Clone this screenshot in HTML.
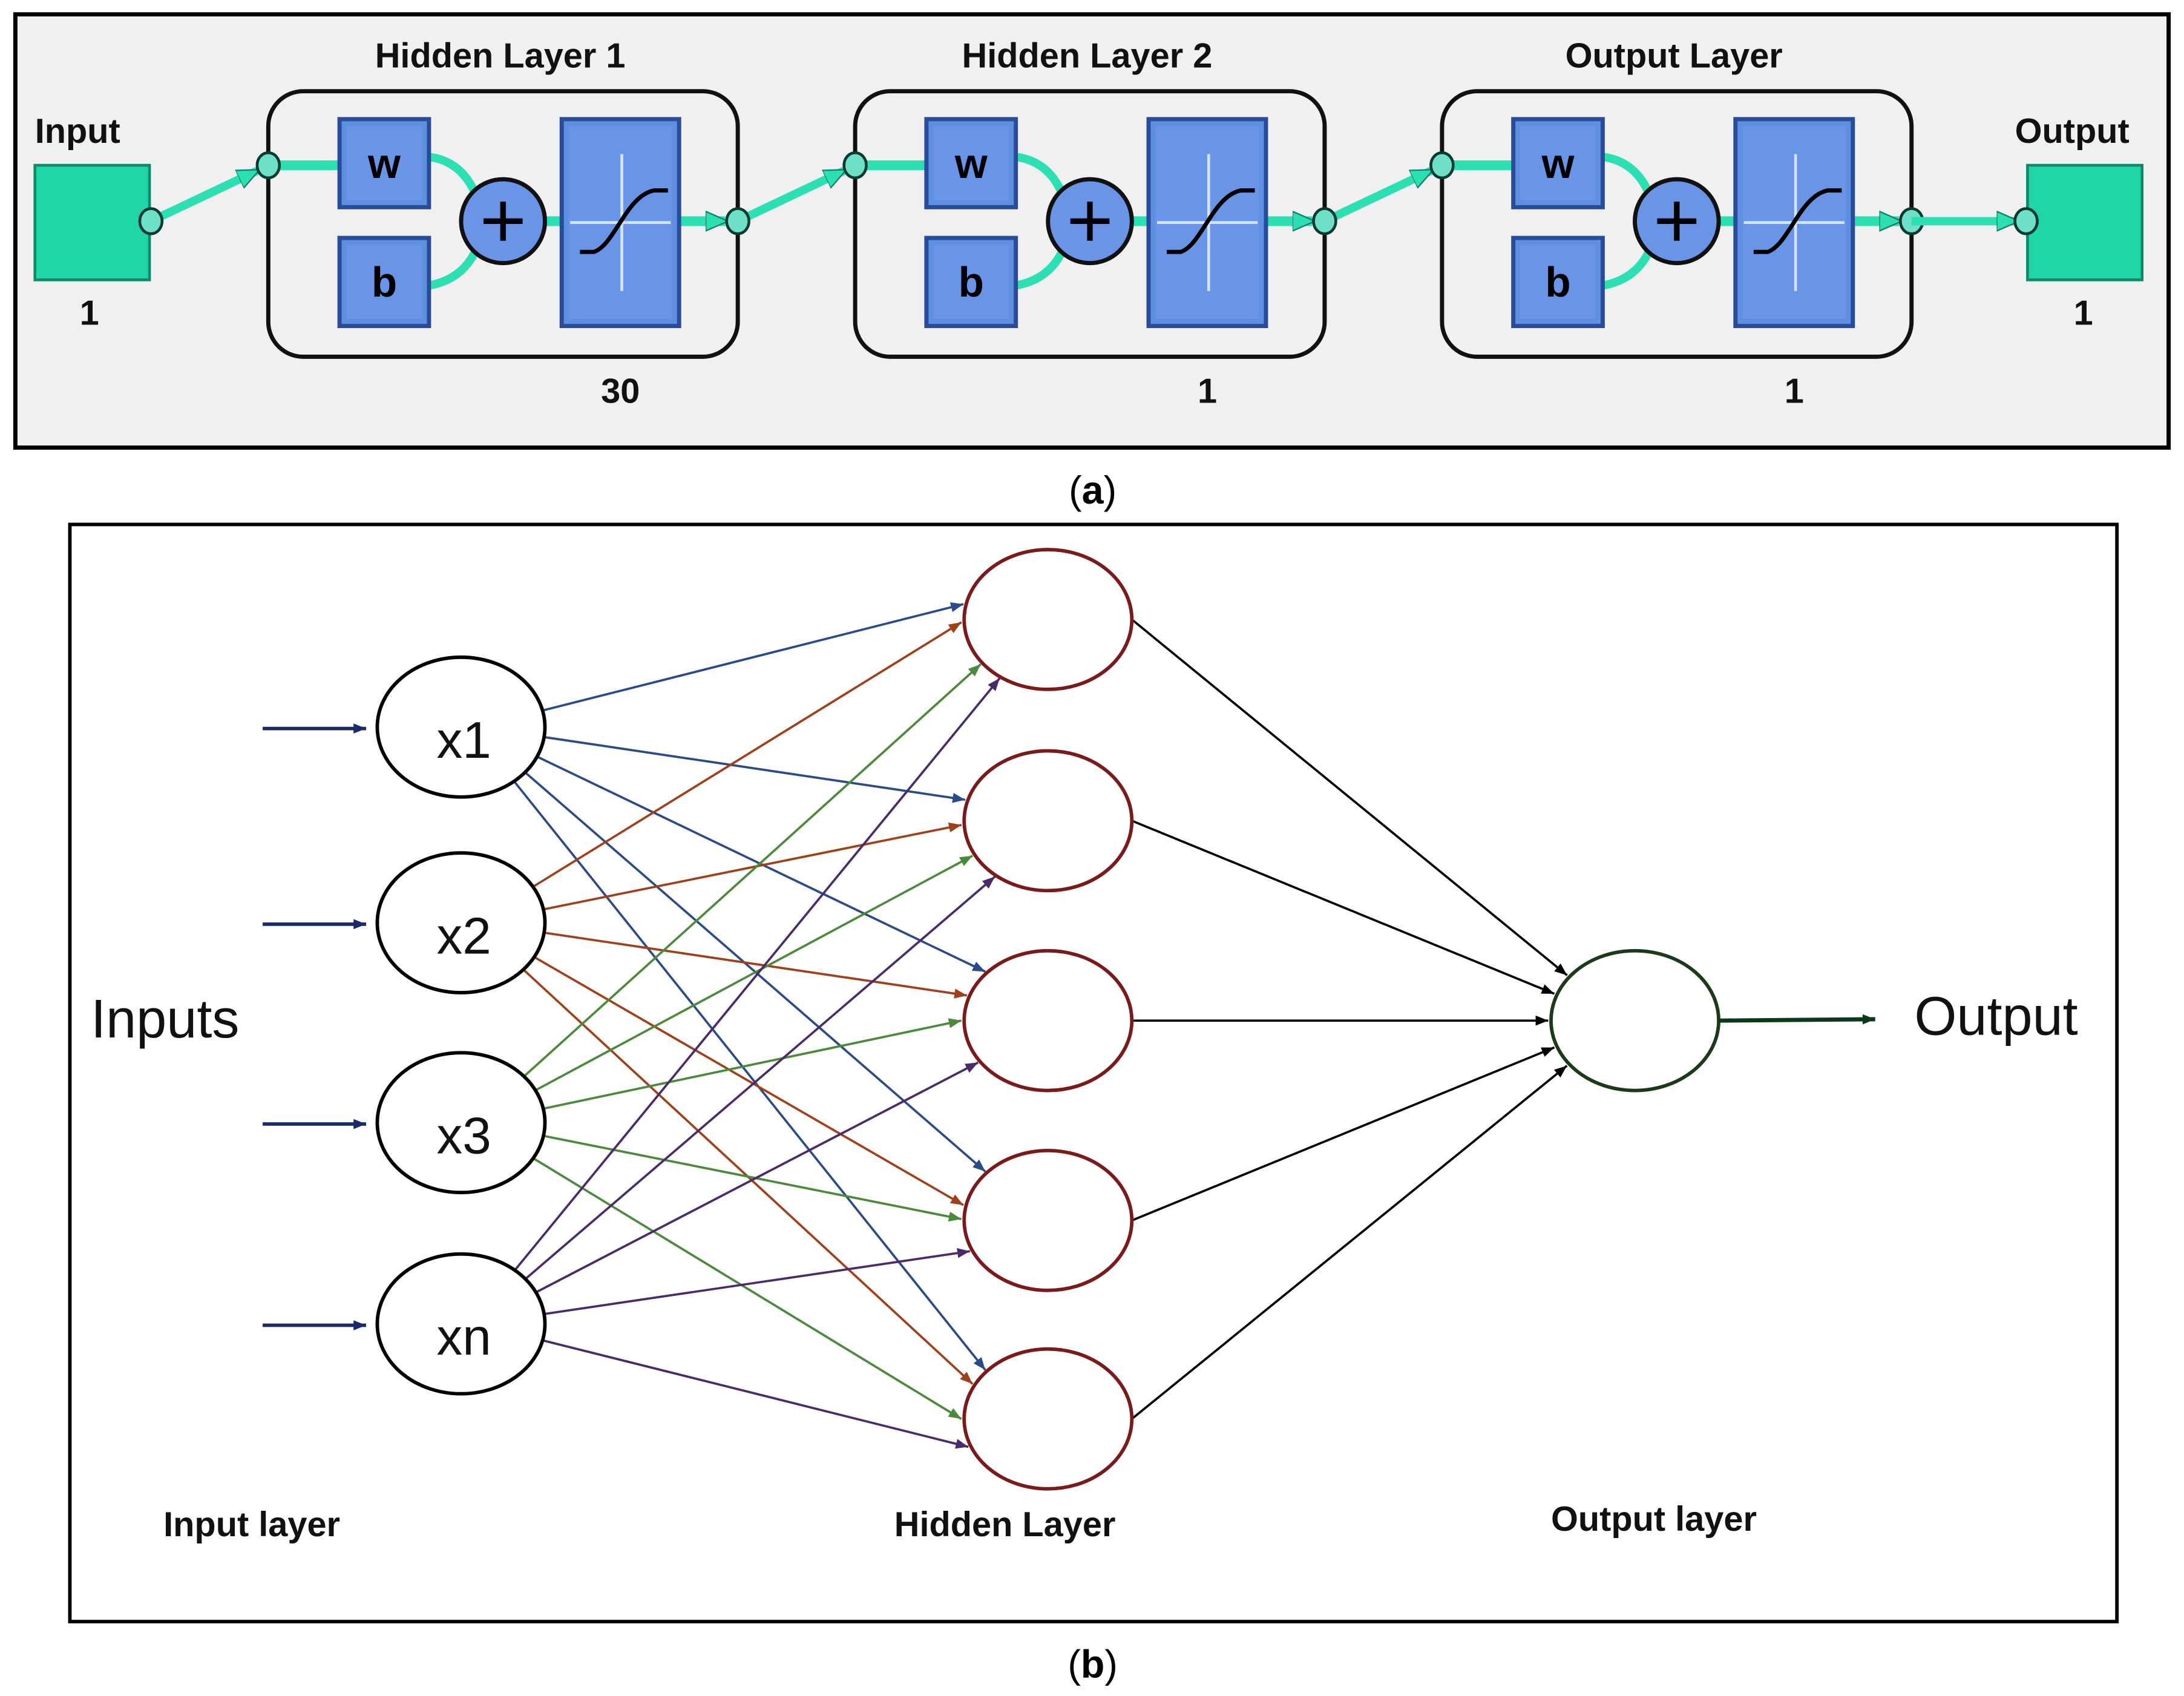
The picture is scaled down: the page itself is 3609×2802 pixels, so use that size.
<!DOCTYPE html>
<html><head><meta charset="utf-8"><style>
html,body{margin:0;padding:0;background:#fff;width:3609px;height:2802px;overflow:hidden}
svg{display:block}
text{font-family:"Liberation Sans",sans-serif}
</style></head><body>
<svg id="s" width="3609" height="2802" viewBox="0 0 1563 1213" xmlns="http://www.w3.org/2000/svg">
<defs>
<marker id="ta" markerWidth="16" markerHeight="16" refX="14" refY="8" orient="auto" markerUnits="userSpaceOnUse" viewBox="0 0 16 16"><path d="M0,1 L16,8 L0,15z" fill="#2de0b4" stroke="#10806a" stroke-width="1"/></marker>
<marker id="mb" viewBox="0 0 10 10" refX="10" refY="5" markerWidth="9" markerHeight="9" orient="auto" markerUnits="userSpaceOnUse"><path d="M0,1 L10,5 L0,9z" fill="context-stroke"/></marker>
</defs>
<!-- (a) -->
<rect x="11" y="10" width="1541" height="310" fill="#f0f0f0" stroke="#000" stroke-width="3"/>
<g font-weight="bold" font-size="25" fill="#111">
<text x="25" y="102">Input</text>
<text x="57" y="232">1</text>
<text x="1442" y="102">Output</text>
<text x="1484" y="232">1</text>
</g>
<rect x="25" y="118" width="82" height="82" fill="#20d6a8" stroke="#0d8a6a" stroke-width="2"/>
<rect x="1451" y="118" width="82" height="82" fill="#20d6a8" stroke="#0d8a6a" stroke-width="2"/>
<g id="layers"></g>
<text x="782" y="360" text-anchor="middle" font-size="28" fill="#000" font-family="Liberation Serif,serif">(<tspan font-weight="bold">a</tspan>)</text>
<!-- (b) -->
<rect x="50" y="375" width="1465" height="785" fill="#fff" stroke="#000" stroke-width="2.5"/>
<g id="net"></g>
<g font-size="39" fill="#111">
<text x="65" y="742">Inputs</text>
<text x="1370" y="740">Output</text>
</g>
<g font-size="25" font-weight="bold" fill="#111">
<text x="117" y="1099">Input layer</text>
<text x="640" y="1099">Hidden Layer</text>
<text x="1110" y="1095">Output layer</text>
</g>
<text x="782" y="1200" text-anchor="middle" font-size="28" fill="#000" font-family="Liberation Serif,serif">(<tspan font-weight="bold">b</tspan>)</text>
</svg>
<script>
var NS="http://www.w3.org/2000/svg";
function el(p,t,a,txt){var e=document.createElementNS(NS,t);for(var k in a)e.setAttribute(k,a[k]);if(txt)e.textContent=txt;p.appendChild(e);return e;}
var L=document.getElementById('layers');
var titles=["Hidden Layer 1","Hidden Layer 2","Output Layer"],nums=["30","1","1"];
function node(x,y){el(L,'ellipse',{cx:x,cy:y,rx:8,ry:9,fill:'#6fe0c8',stroke:'#0a3a30','stroke-width':2});}
for(var i=0;i<3;i++){
 var o=i*420;
 el(L,'text',{x:358+o,y:48,'text-anchor':'middle','font-size':25,'font-weight':'bold',fill:'#111'},titles[i]);
 el(L,'text',{x:444+o,y:288,'text-anchor':'middle','font-size':25,'font-weight':'bold',fill:'#111'},nums[i]);
 el(L,'rect',{x:192+o,y:65,width:336,height:190,rx:25,fill:'none',stroke:'#111','stroke-width':3});
 el(L,'line',{x1:192+o,y1:118,x2:243+o,y2:118,stroke:'#2de0b4','stroke-width':7});
 el(L,'path',{d:'M'+(307+o)+',112 Q'+(330+o)+',115 '+(340+o)+',138',fill:'none',stroke:'#2de0b4','stroke-width':6});
 el(L,'path',{d:'M'+(307+o)+',204 Q'+(330+o)+',200 '+(340+o)+',180',fill:'none',stroke:'#2de0b4','stroke-width':6});
 el(L,'line',{x1:390+o,y1:158,x2:402+o,y2:158,stroke:'#2de0b4','stroke-width':7});
 el(L,'line',{x1:486+o,y1:158,x2:519+o,y2:158,stroke:'#2de0b4','stroke-width':7,'marker-end':'url(#ta)'});
 [[243,85,64,63,'w'],[243,170,64,63,'b'],[402,85,84,148,'']].forEach(function(b){
  el(L,'rect',{x:b[0]+o,y:b[1],width:b[2],height:b[3],fill:'#5f8fe0',stroke:'#2a4a9a','stroke-width':3});
  el(L,'rect',{x:b[0]+o+5,y:b[1]+5,width:b[2]-10,height:b[3]-10,fill:'#6a95e6'});
  if(b[4])el(L,'text',{x:b[0]+o+32,y:b[1]+42,'text-anchor':'middle','font-size':30,'font-weight':'bold',fill:'#000'},b[4]);
 });
 el(L,'line',{x1:408+o,y1:159,x2:480+o,y2:159,stroke:'#d8e4ff','stroke-width':2});
 el(L,'line',{x1:445+o,y1:110,x2:445+o,y2:208,stroke:'#d8e4ff','stroke-width':2});
 el(L,'path',{d:'M'+(415+o)+',180 L'+(425+o)+',180 C'+(440+o)+',175 '+(448+o)+',140 '+(468+o)+',136 L'+(478+o)+',136',fill:'none',stroke:'#000','stroke-width':3});
 el(L,'circle',{cx:360+o,cy:158,r:30,fill:'#6a95e6',stroke:'#111','stroke-width':3});
 el(L,'path',{d:'M'+(346+o)+',158 H'+(374+o)+' M'+(360+o)+',144 V172',stroke:'#000','stroke-width':4});
 var sx=i==0?108:528+(i-1)*420;
 el(L,'line',{x1:sx,y1:158,x2:184+o,y2:122,stroke:'#2de0b4','stroke-width':6,'marker-end':'url(#ta)'});
 node(sx,158);node(192+o,118);
}
node(528+840,158);
el(L,'line',{x1:1368,y1:158,x2:1443,y2:158,stroke:'#2de0b4','stroke-width':6,'marker-end':'url(#ta)'});
node(1450,158);

var N=document.getElementById('net');
var inp=[[330,520,'x1'],[330,660,'x2'],[330,803,'x3'],[330,947,'xn']];
var hid=[443,587,730,873,1015];
var offs=[[-11,2,32,42],[-15,3,25,40],[-35,-18,0,30],[-35,-11,-1,22],[-35,-25,0,20]];
var cols=['#2a4a8a','#a0401a','#4a8a3a','#4a2a6a'];
inp.forEach(function(p,i){
 el(N,'line',{x1:188,y1:p[1]+1,x2:262,y2:p[1]+1,stroke:'#1a2a6a','stroke-width':2.5,'marker-end':'url(#mb)'});
 hid.forEach(function(hy,j){
  var ty=hy+offs[j][i];
  var dy=(ty-hy)/50; if(dy>0.95)dy=0.95; if(dy<-0.95)dy=-0.95;
  var tx=750-60*Math.sqrt(1-dy*dy)-2;
  var a=Math.atan2(ty-p[1],tx-p[0]);
  var x1=p[0]+60*Math.cos(a),y1=p[1]+50*Math.sin(a);
  el(N,'line',{x1:x1,y1:y1,x2:tx,y2:ty,stroke:cols[i],'stroke-width':1.6,'marker-end':'url(#mb)'});
 });
});
hid.forEach(function(hy){
 var a=Math.atan2(hy-730,810-1170);
 var tx=1170+62*Math.cos(a),ty=730+52*Math.sin(a);
 el(N,'line',{x1:810,y1:hy,x2:tx,y2:ty,stroke:'#000','stroke-width':1.6,'marker-end':'url(#mb)'});
});
hid.forEach(function(hy){el(N,'ellipse',{cx:750,cy:hy,rx:60,ry:50,fill:'#fff',stroke:'#7a1a1a','stroke-width':2.5});});
inp.forEach(function(p){
 el(N,'ellipse',{cx:p[0],cy:p[1],rx:60,ry:50,fill:'#fff',stroke:'#000','stroke-width':2.5});
 el(N,'text',{x:p[0]+2,y:p[1]+22,'text-anchor':'middle','font-size':37,fill:'#111'},p[2]);
});
el(N,'ellipse',{cx:1170,cy:730,rx:60,ry:50,fill:'#fff',stroke:'#1a3a1a','stroke-width':2.5});
el(N,'line',{x1:1230,y1:730,x2:1342,y2:729,stroke:'#0a3a1a','stroke-width':3,'marker-end':'url(#mb)'});
</script>
</body></html>
